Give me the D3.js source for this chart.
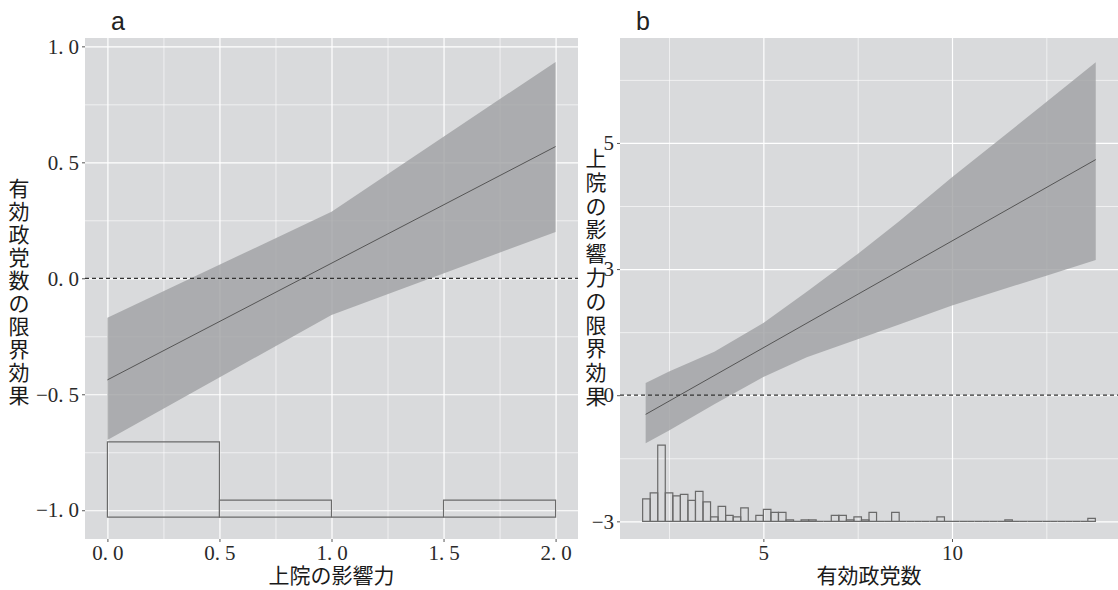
<!DOCTYPE html>
<html>
<head>
<meta charset="utf-8">
<script src="https://cdn.jsdelivr.net/npm/d3@7"></script>
<style>
    body { margin: 0; background: #fff; }
    .tick text { font-family: "Liberation Serif", "DejaVu Serif", serif; font-size: 21px; fill: #2a2a2a; }
    .axis-title { font-family: "Noto Sans CJK JP", sans-serif; font-size: 21px; fill: #1a1a1a; }
    .panel-tag { font-family: "Liberation Sans", Arial, sans-serif; font-size: 25px; fill: #222; }
</style>
</head>
<body>
<div id="chart"></div>
<script>
// panel a: marginal effect of ENP over upper house power
var aX = [0, 1, 2];
var aUpper = [-0.17, 0.287, 0.933];
var aLower = [-0.697, -0.158, 0.20];
var aFitX = [0, 2];
var aFit = [-0.438, 0.568];
var aHistBreaks = [0, 0.5, 1.0, 1.5, 2.0];
var aHistCounts = [22, 5, 0, 5];
var aHistBase = -1.03, aHistTop = -0.705;
var aXTicks = [0, 0.5, 1, 1.5, 2];
var aXLabels = ["0.0", "0.5", "1.0", "1.5", "2.0"];
var aYTicks = [-1, -0.5, 0, 0.5, 1];
var aYLabels = ["\u22121.0", "\u22120.5", "0.0", "0.5", "1.0"];

// panel b: marginal effect of upper house power over ENP
var bX = [1.88, 2.5, 3.7, 5.0, 6.15, 7.5, 8.6, 10.0, 12.5, 13.81];
var bUpper = [0.24, 0.47, 0.86, 1.43, 2.05, 2.80, 3.45, 4.32, 5.81, 6.60];
var bLower = [-0.95, -0.70, -0.18, 0.36, 0.75, 1.11, 1.40, 1.78, 2.37, 2.68];
var bFitX = [1.88, 13.81];
var bFit = [-0.38, 4.67];
var bHistStart = 1.8, bHistWidth = 0.2;
var bHistCounts = [15, 19, 51, 19, 17, 18, 14, 20, 13, 3,
                   10, 4, 3, 9, 0, 4, 8, 6, 6, 1,
                   0, 1, 1, 0, 0, 4, 4, 1, 3, 1,
                   6, 0, 0, 6, 0, 0, 0, 0, 0, 3,
                   0, 0, 0, 0, 0, 0, 0, 0, 1, 0,
                   0, 0, 0, 0, 0, 0, 0, 0, 0, 2];
var bHistBase = -2.5, bHistTop = -0.99;
var bXTicks = [5, 10];
var bXMinor = [2.5, 7.5, 12.5];
var bYTicks = [-2.5, 0, 2.5, 5];
var bYLabels = ["\u22123", "0", "3", "5"];
var bYMinor = [-1.25, 1.25, 3.75, 6.25];

function init() {
    var w = 1118;
    var h = 590;

    var svg = d3.select("#chart")
        .append("svg")
        .attr("width", w)
        .attr("height", h);

    // split "0.5" so the period gets the wide mincho look
    function spaceLabels(g) {
        g.selectAll(".tick text").each(function () {
            var t = d3.select(this);
            var s = t.text();
            var parts = s.split(".");
            if (parts.length == 2) {
                t.text(parts[0] + ".");
                t.append("tspan").attr("dx", 5).text(parts[1]);
            }
        });
    }

    function drawPanel(p) {
        var xScale = d3.scaleLinear().domain(p.xDomain).range([p.left, p.right]);
        var yScale = d3.scaleLinear().domain(p.yDomain).range([p.bottom, p.top]);
        var pw = p.right - p.left, ph = p.bottom - p.top;

        svg.append("rect")
            .attr("x", p.left).attr("y", p.top)
            .attr("width", pw).attr("height", ph)
            .attr("fill", "#d9dadc");

        // minor grid
        svg.append("g")
            .attr("transform", `translate(0,${p.bottom})`)
            .call(d3.axisBottom(xScale).tickValues(p.xMinor).tickSize(-ph).tickFormat(""))
            .call(g => g.select(".domain").remove())
            .selectAll("line").attr("stroke", "#fff").attr("stroke-width", 0.6);
        svg.append("g")
            .attr("transform", `translate(${p.left},0)`)
            .call(d3.axisLeft(yScale).tickValues(p.yMinor).tickSize(-pw).tickFormat(""))
            .call(g => g.select(".domain").remove())
            .selectAll("line").attr("stroke", "#fff").attr("stroke-width", 0.6);
        // major grid
        svg.append("g")
            .attr("transform", `translate(0,${p.bottom})`)
            .call(d3.axisBottom(xScale).tickValues(p.xTicks).tickSize(-ph).tickFormat(""))
            .call(g => g.select(".domain").remove())
            .selectAll("line").attr("stroke", "#fff").attr("stroke-width", 1.2);
        svg.append("g")
            .attr("transform", `translate(${p.left},0)`)
            .call(d3.axisLeft(yScale).tickValues(p.yTicks).tickSize(-pw).tickFormat(""))
            .call(g => g.select(".domain").remove())
            .selectAll("line").attr("stroke", "#fff").attr("stroke-width", 1.2);

        // confidence ribbon
        var band = p.bandX.map(function (d, i) { return { x: d, lo: p.lower[i], hi: p.upper[i] }; });
        var area = d3.area()
            .x(function (d) { return xScale(d.x); })
            .y0(function (d) { return yScale(d.lo); })
            .y1(function (d) { return yScale(d.hi); });
        svg.append("path")
            .datum(band)
            .attr("d", area)
            .attr("fill", "#a0a1a4")
            .attr("fill-opacity", 0.81);

        // histogram
        var hScale = d3.scaleLinear().domain([0, d3.max(p.counts)]).range([p.histBase, p.histTop]);
        svg.append("g").selectAll("path")
            .data(p.bins)
            .enter().append("path")
            .attr("d", function (d) {
                var x0 = xScale(d.x0), x1 = xScale(d.x1);
                var y0 = yScale(p.histBase), y1 = yScale(hScale(d.n));
                return `M${x0},${y0}L${x0},${y1}L${x1},${y1}L${x1},${y0}Z`;
            })
            .attr("fill", "none")
            .attr("stroke", "#6a6a6a")
            .attr("stroke-width", 1.2);

        // fitted line
        var fit = p.fitX.map(function (d, i) { return { x: d, y: p.fit[i] }; });
        svg.append("path")
            .datum(fit)
            .attr("d", d3.line().x(function (d) { return xScale(d.x); }).y(function (d) { return yScale(d.y); }))
            .attr("fill", "none")
            .attr("stroke", "#555")
            .attr("stroke-width", 1);

        // zero line
        svg.append("line")
            .attr("x1", p.left).attr("x2", p.right)
            .attr("y1", yScale(0)).attr("y2", yScale(0))
            .attr("stroke", "#333")
            .attr("stroke-width", 1.2)
            .attr("stroke-dasharray", "4,3");

        // axes
        var xAxis = svg.append("g")
            .attr("transform", `translate(0,${p.bottom})`)
            .call(d3.axisBottom(xScale).tickValues(p.xTicks).tickSize(3).tickPadding(3)
                .tickFormat(function (d, i) { return p.xLabels[i]; }));
        xAxis.select(".domain").remove();
        xAxis.selectAll("line").attr("stroke", "#555");
        xAxis.call(spaceLabels);

        var yAxis = svg.append("g")
            .attr("transform", `translate(${p.left},0)`)
            .call(d3.axisLeft(yScale).tickValues(p.yTicks).tickSize(3).tickPadding(3)
                .tickFormat(function (d, i) { return p.yLabels[i]; }));
        yAxis.select(".domain").remove();
        yAxis.selectAll("line").attr("stroke", "#555");
        yAxis.call(spaceLabels);

        // titles
        svg.append("text")
            .attr("class", "axis-title")
            .attr("x", (p.left + p.right) / 2)
            .attr("y", 583)
            .attr("text-anchor", "middle")
            .text(p.xTitle);

        var yt = svg.append("text")
            .attr("class", "axis-title")
            .attr("text-anchor", "middle");
        Array.from(p.yTitle).forEach(function (c, i) {
            yt.append("tspan")
                .attr("x", p.yTitleX)
                .attr("y", p.yTitleY + i * p.yTitleStep)
                .text(c);
        });

        svg.append("text")
            .attr("class", "panel-tag")
            .attr("x", p.tagX)
            .attr("y", 30)
            .text(p.tag);
    }

    drawPanel({
        left: 85, right: 578, top: 38, bottom: 539,
        xDomain: [-0.1, 2.1], yDomain: [-1.124, 1.036],
        xTicks: aXTicks, xLabels: aXLabels, xMinor: [0.25, 0.75, 1.25, 1.75],
        yTicks: aYTicks, yLabels: aYLabels, yMinor: [-0.75, -0.25, 0.25, 0.75],
        bandX: aX, upper: aUpper, lower: aLower,
        fitX: aFitX, fit: aFit,
        counts: aHistCounts,
        bins: aHistCounts.map(function (n, i) { return { x0: aHistBreaks[i], x1: aHistBreaks[i + 1], n: n }; }),
        histBase: aHistBase, histTop: aHistTop,
        xTitle: "上院の影響力", yTitle: "有効政党数の限界効果",
        yTitleX: 19, yTitleY: 196, yTitleStep: 23,
        tag: "a", tagX: 111
    });

    drawPanel({
        left: 620, right: 1118, top: 38, bottom: 539,
        xDomain: [1.2, 14.4], yDomain: [-2.85, 7.08],
        xTicks: bXTicks, xLabels: bXTicks.map(String), xMinor: bXMinor,
        yTicks: bYTicks, yLabels: bYLabels, yMinor: bYMinor,
        bandX: bX, upper: bUpper, lower: bLower,
        fitX: bFitX, fit: bFit,
        counts: bHistCounts,
        bins: bHistCounts.map(function (n, i) {
            return { x0: bHistStart + i * bHistWidth, x1: bHistStart + (i + 1) * bHistWidth, n: n };
        }),
        histBase: bHistBase, histTop: bHistTop,
        xTitle: "有効政党数", yTitle: "上院の影響力の限界効果",
        yTitleX: 596, yTitleY: 166, yTitleStep: 23.8,
        tag: "b", tagX: 636
    });
}

window.onload = init;
</script>
</body>
</html>
